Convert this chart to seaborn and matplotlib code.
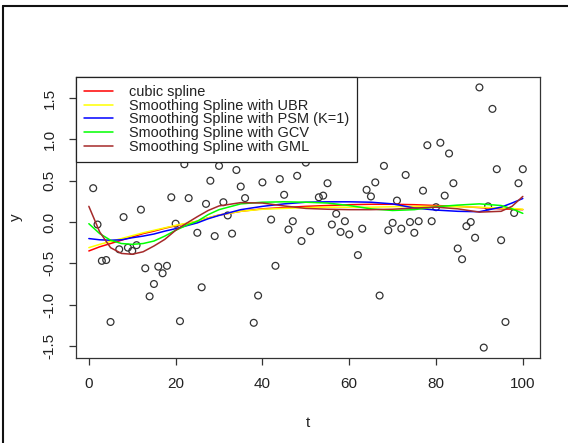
import numpy as np
import pandas as pd
import matplotlib
matplotlib.use("Agg")
import matplotlib.pyplot as plt
from matplotlib.lines import Line2D
import seaborn as sns

# ---- observed points ----
t_obs = [1, 2, 3, 4, 5, 7, 8, 9, 10, 11, 12, 13, 14, 15, 16, 17, 18, 19, 20, 21,
         22, 23, 25, 26, 27, 28, 29, 30, 31, 32, 33, 34, 35, 36, 38, 39, 40, 42, 43, 44,
         45, 46, 47, 48, 49, 50, 51, 53, 54, 55, 56, 57, 58, 59, 60, 62, 63, 64, 65, 66,
         67, 68, 69, 70, 71, 72, 73, 74, 75, 76, 77, 78, 79, 80, 81, 82, 83, 84, 85, 86,
         87, 88, 89, 90, 91, 92, 93, 94, 95, 96, 98, 99, 100]
y_obs = [0.41, -0.03, -0.47, -0.46, -1.21, -0.33, 0.06, -0.31, -0.35, -0.28,
         0.15, -0.56, -0.90, -0.75, -0.54, -0.62, -0.53, 0.30, -0.02, -1.20,
         0.70, 0.29, -0.13, -0.79, 0.22, 0.50, -0.17, 0.68, 0.24, 0.08,
         -0.14, 0.63, 0.43, 0.29, -1.22, -0.89, 0.48, 0.03, -0.53, 0.52,
         0.33, -0.09, 0.01, 0.56, -0.23, 0.72, -0.11, 0.30, 0.32, 0.47,
         -0.03, 0.10, -0.12, 0.01, -0.15, -0.40, -0.08, 0.39, 0.31, 0.48,
         -0.89, 0.68, -0.10, -0.01, 0.26, -0.08, 0.57, 0.00, -0.13, 0.01,
         0.38, 0.93, 0.01, 0.18, 0.96, 0.32, 0.83, 0.47, -0.32, -0.45,
         -0.05, 0.00, -0.19, 1.63, -1.52, 0.19, 1.37, 0.64, -0.22, -1.21,
         0.11, 0.47, 0.64]

# ---- fitted curves (read at these t values) ----
t_fit = [0, 2.5, 5, 7.5, 10, 12.5, 15, 17.5, 20, 22.5, 25, 27.5, 30, 35, 40, 45,
         50, 55, 60, 65, 70, 75, 80, 85, 90, 95, 97.5, 100]
cubic = [-0.35, -0.30, -0.26, -0.22, -0.18, -0.14, -0.11, -0.075, -0.045, -0.02, 0.01,
         0.05, 0.085, 0.13, 0.16, 0.175, 0.19, 0.20, 0.21, 0.215, 0.215, 0.21, 0.20,
         0.19, 0.175, 0.16, 0.155, 0.15]
ubr = [-0.31, -0.27, -0.235, -0.20, -0.165, -0.13, -0.10, -0.07, -0.04, -0.015, 0.01,
       0.05, 0.085, 0.13, 0.155, 0.165, 0.175, 0.18, 0.18, 0.18, 0.185, 0.19, 0.19,
       0.185, 0.18, 0.17, 0.165, 0.155]
psm = [-0.20, -0.215, -0.22, -0.215, -0.19, -0.17, -0.145, -0.11, -0.08, -0.045, -0.01,
       0.04, 0.08, 0.15, 0.19, 0.22, 0.24, 0.245, 0.245, 0.24, 0.22, 0.17, 0.145,
       0.13, 0.125, 0.18, 0.23, 0.285]
gcv = [-0.02, -0.14, -0.22, -0.26, -0.27, -0.26, -0.23, -0.17, -0.10, -0.04, 0.01,
       0.09, 0.15, 0.22, 0.24, 0.245, 0.24, 0.23, 0.20, 0.16, 0.14, 0.15, 0.185,
       0.205, 0.22, 0.20, 0.16, 0.105]
gml = [0.19, -0.12, -0.31, -0.38, -0.39, -0.36, -0.29, -0.21, -0.10, -0.015, 0.065,
       0.14, 0.195, 0.235, 0.23, 0.195, 0.165, 0.155, 0.15, 0.15, 0.155, 0.17, 0.18,
       0.16, 0.12, 0.13, 0.19, 0.31]

labels = ["cubic spline", "Smoothing Spline with UBR", "Smoothing Spline with PSM (K=1)",
          "Smoothing Spline with GCV", "Smoothing Spline with GML"]
colors = ["#FF0000", "#FFFF00", "#0000FF", "#00FF00", "#A52A2A"]
x_ticks = [0, 20, 40, 60, 80, 100]
y_ticks = [-1.5, -1.0, -0.5, 0.0, 0.5, 1.0, 1.5]

sns.set_style("white")
plt.rcParams["font.family"] = ["Liberation Sans", "DejaVu Sans"]

fig = plt.figure(figsize=(5.68, 4.43), dpi=100)
ax = fig.add_axes([76/568, 1-358/443, 464/568, 281/443])

pts = pd.DataFrame({"t": t_obs, "y": y_obs})
sns.scatterplot(data=pts, x="t", y="y", ax=ax, marker="o", s=24,
                facecolor="none", edgecolor="#333333", linewidth=0.9, zorder=2)

fits = [cubic, ubr, psm, gcv, gml]
for vals, lab, col in zip(fits, labels, colors):
    df = pd.DataFrame({"t": t_fit, "y": vals})
    sns.lineplot(data=df, x="t", y="y", ax=ax, color=col, linewidth=1.1,
                 label=lab, zorder=3)

ax.set_xlim(-2.96, 103.96)
ax.set_ylim(-1.646, 1.756)
ax.set_xticks(x_ticks)
ax.set_xticklabels([str(v) for v in x_ticks])
ax.set_yticks(y_ticks)
ax.set_yticklabels([f"{v:.1f}" for v in y_ticks], rotation=90, va="center")
ax.tick_params(axis="both", which="major", direction="out", length=5, width=0.9,
               color="#333333", labelsize=11, labelcolor="#222222", pad=9,
               bottom=True, left=True)
for sp in ax.spines.values():
    sp.set_color("#333333")
    sp.set_linewidth(0.9)
ax.set_xlabel("t", fontsize=11, color="#222222")
ax.set_ylabel("y", fontsize=11, color="#222222")
ax.xaxis.set_label_coords(0.5, -0.205)
ax.yaxis.set_label_coords(-0.115, 0.5)

leg = ax.legend(loc="upper left", bbox_to_anchor=(0, 1), borderaxespad=0,
                fontsize=10.45, frameon=True, fancybox=False, handlelength=2.0,
                handletextpad=1.1, labelspacing=-0.02, borderpad=0.55)
leg.get_frame().set_edgecolor("#222222")
leg.get_frame().set_linewidth(0.9)
leg.get_frame().set_facecolor("white")
leg.get_frame().set_alpha(1)
for txt in leg.get_texts():
    txt.set_color("#222222")

fig.add_artist(Line2D([3/568, 1], [1-6/443, 1-6/443], transform=fig.transFigure,
                      color="#111111", lw=1.5))
fig.add_artist(Line2D([3/568, 3/568], [0, 1-6/443], transform=fig.transFigure,
                      color="#111111", lw=1.5))

fig.savefig("out.png", dpi=100, facecolor="white")
